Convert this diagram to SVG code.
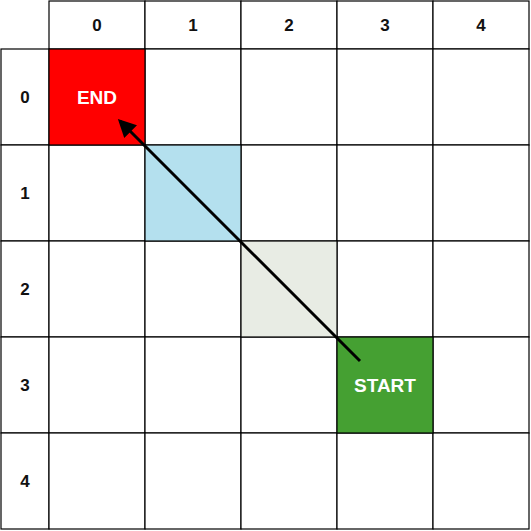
<svg xmlns="http://www.w3.org/2000/svg" width="531" height="531" viewBox="0 0 531 531">
<style>
.c{fill:#fff;stroke:#000;stroke-width:1.2}
.h{font-family:"Liberation Sans",Arial,sans-serif;font-weight:bold;font-size:17px;fill:#111;text-anchor:middle;dominant-baseline:central}
.w{font-family:"Liberation Sans",Arial,sans-serif;font-weight:bold;font-size:19px;fill:#fff;text-anchor:middle;dominant-baseline:central}
</style>
<defs>
<marker id="ah" markerWidth="6" markerHeight="6" refX="5" refY="3" orient="auto" markerUnits="strokeWidth">
<path d="M0,0 L6,3 L0,6 Z" fill="#000"/>
</marker>
</defs>
<rect width="531" height="531" fill="#fff"/>
<g id="col-headers">
<rect class="c" x="49" y="1" width="96" height="48"/><text class="h" x="97" y="25">0</text>
<rect class="c" x="145" y="1" width="96" height="48"/><text class="h" x="193" y="25">1</text>
<rect class="c" x="241" y="1" width="96" height="48"/><text class="h" x="289" y="25">2</text>
<rect class="c" x="337" y="1" width="96" height="48"/><text class="h" x="385" y="25">3</text>
<rect class="c" x="433" y="1" width="96" height="48"/><text class="h" x="481" y="25">4</text>
</g>
<g id="row-headers">
<rect class="c" x="1" y="49" width="48" height="96"/><text class="h" x="25" y="97">0</text>
<rect class="c" x="1" y="145" width="48" height="96"/><text class="h" x="25" y="193">1</text>
<rect class="c" x="1" y="241" width="48" height="96"/><text class="h" x="25" y="289">2</text>
<rect class="c" x="1" y="337" width="48" height="96"/><text class="h" x="25" y="385">3</text>
<rect class="c" x="1" y="433" width="48" height="96"/><text class="h" x="25" y="481">4</text>
</g>
<g id="grid">
<rect class="c" x="145" y="49" width="96" height="96"/>
<rect class="c" x="241" y="49" width="96" height="96"/>
<rect class="c" x="337" y="49" width="96" height="96"/>
<rect class="c" x="433" y="49" width="96" height="96"/>
<rect class="c" x="49" y="145" width="96" height="96"/>
<rect class="c" x="241" y="145" width="96" height="96"/>
<rect class="c" x="337" y="145" width="96" height="96"/>
<rect class="c" x="433" y="145" width="96" height="96"/>
<rect class="c" x="49" y="241" width="96" height="96"/>
<rect class="c" x="145" y="241" width="96" height="96"/>
<rect class="c" x="337" y="241" width="96" height="96"/>
<rect class="c" x="433" y="241" width="96" height="96"/>
<rect class="c" x="49" y="337" width="96" height="96"/>
<rect class="c" x="145" y="337" width="96" height="96"/>
<rect class="c" x="241" y="337" width="96" height="96"/>
<rect class="c" x="433" y="337" width="96" height="96"/>
<rect class="c" x="49" y="433" width="96" height="96"/>
<rect class="c" x="145" y="433" width="96" height="96"/>
<rect class="c" x="241" y="433" width="96" height="96"/>
<rect class="c" x="337" y="433" width="96" height="96"/>
<rect class="c" x="433" y="433" width="96" height="96"/>
</g>
<g id="path-cell-1-1"><rect class="c" x="145" y="145" width="96" height="96" style="fill:#b4e0ee"/></g>
<g id="path-cell-2-2"><rect class="c" x="241" y="241" width="96" height="96" style="fill:#e8ece4"/></g>
<g id="end"><rect class="c" x="49" y="49" width="96" height="96" style="fill:#ff0000"/><text class="w" x="97" y="97">END</text></g>
<g id="start"><rect class="c" x="337" y="337" width="96" height="96" style="fill:#45a032"/><text class="w" x="385" y="385">START</text></g>
<g id="connectors">
<line x1="360" y1="361" x2="120" y2="121" stroke="#000" stroke-width="3" marker-end="url(#ah)"/>
</g>
</svg>
